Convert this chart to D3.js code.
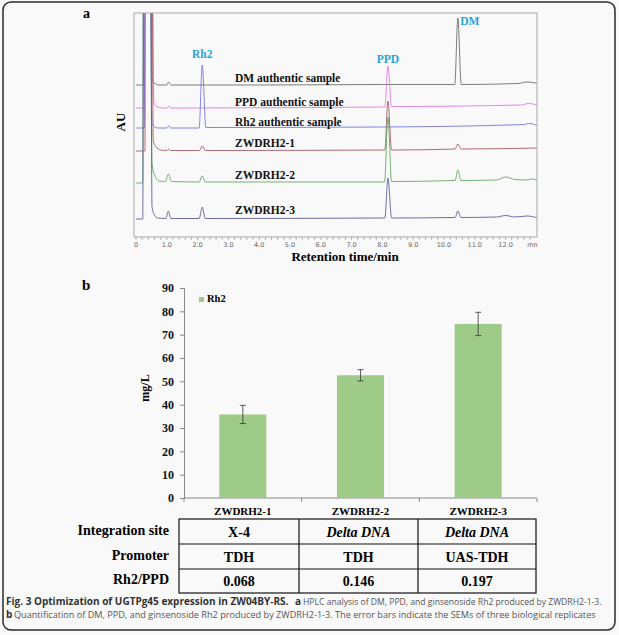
<!DOCTYPE html>
<html>
<head>
<meta charset="utf-8">
<script src="https://cdn.jsdelivr.net/npm/d3@7"></script>
<style>
  body { margin: 0; background: #f9f9f9; }
  svg { display: block; }
  .serif { font-family: "Liberation Serif", "Times New Roman", serif; font-weight: bold; }
  .cap { font-family: "Open Sans", sans-serif; }
</style>
</head>
<body>
<div id="chart"></div>
<script>
// ---- panel a: HPLC traces, [time (min), signal]
var traceNames = ["DM authentic sample", "PPD authentic sample", "Rh2 authentic sample",
                  "ZWDRH2-1", "ZWDRH2-2", "ZWDRH2-3"];
var traceColors = ["#6e6e6e", "#e27be2", "#7676e4", "#a45c62", "#64a864", "#5e5e9c"];
var traceOffsets = [152, 129, 109, 86, 54, 18];

var dmTrace = [[0,0],[0.24,0],[0.27,400],[0.45,400],[0.52,6],[0.6,2],[0.75,0],[1.0,0],[1.06,3],[1.14,0],
  [4,0],[8,0.5],[10.35,0.5],[10.45,67],[10.56,0.5],[12.4,1.5],[12.7,3],[13.05,1.5]];
var ppdTrace = [[0,0],[0.26,0],[0.29,400],[0.5,400],[0.58,5],[0.7,1],[0.85,0],[1.0,0],[1.06,2],[1.12,0],
  [8.08,1],[8.18,42],[8.3,1.5],[12.5,3],[12.75,4.5],[13.05,2.5]];
var rh2Trace = [[0,0],[0.27,0],[0.3,400],[0.42,400],[0.52,4],[0.7,0],[1.0,0],[1.06,2],[1.12,0],
  [2.05,0],[2.15,63],[2.27,0.5],[8,1],[12.6,3.5],[12.75,4.5],[13.05,2]];
var z1Trace = [[0,0],[0.29,0],[0.32,400],[0.5,400],[0.56,10],[0.65,4],[0.8,1],[1.0,0.5],[1.06,2],[1.12,0.5],
  [2.06,0.5],[2.15,5],[2.25,0.5],[8.08,1],[8.18,50],[8.3,1],[10.36,2],[10.45,7],[10.55,2],[13.05,3]];
var z2Trace = [[0,0],[0.22,0],[0.25,400],[0.45,400],[0.52,20],[0.6,8],[0.75,2],[0.96,1.5],[1.05,9],[1.15,1.5],
  [2.05,1],[2.15,7],[2.25,1],[8.07,1],[8.18,66],[8.3,1.5],[10.36,2.5],[10.45,13],[10.55,2.5],
  [11.7,3],[12.0,6],[12.3,3.5],[12.7,3],[12.85,4],[13.05,2.5]];
var z3Trace = [[0,0],[0.22,0],[0.25,400],[0.46,400],[0.52,12],[0.6,4],[0.7,1],[0.97,0.5],[1.05,8],[1.13,0.5],
  [2.05,0.5],[2.15,12],[2.25,0.5],[8.08,1],[8.18,41],[8.3,1],[10.36,1.5],[10.45,8],[10.55,1.5],
  [11.7,2],[12.0,3.5],[12.3,2],[12.7,3],[13.05,1]];
var traces = [dmTrace, ppdTrace, rh2Trace, z1Trace, z2Trace, z3Trace];

var peakNames = ["Rh2", "PPD", "DM"];
var peakTimes = [2.15, 8.18, 10.45];
var peakTrace = [2, 1, 0];

var timeTicks = d3.range(0, 14);
var timeLabels = ["0","1.0","2.0","3.0","4.0","5.0","6.0","7.0","8.0","9.0","10.0","11.0","12.0","mn"];

// ---- panel b: Rh2 titre
var strains = ["ZWDRH2-1", "ZWDRH2-2", "ZWDRH2-3"];
var rh2Values = [35.8, 52.6, 74.6];
var rh2Errors = [3.9, 2.4, 5.0];
var yTicksB = [0, 10, 20, 30, 40, 50, 60, 70, 80, 90];

// ---- table
var rowLabels = ["Integration site", "Promoter", "Rh2/PPD"];
var integrationSites = ["X-4", "Delta DNA", "Delta DNA"];
var promoters = ["TDH", "TDH", "UAS-TDH"];
var ratios = ["0.068", "0.146", "0.197"];

var W = 619, H = 635;
var svg = d3.select("#chart").append("svg").attr("width", W).attr("height", H);

// outer frame
svg.append("rect").attr("x", 3).attr("y", 2).attr("width", 612).attr("height", 628)
    .attr("rx", 8).attr("fill", "none").attr("stroke", "#2a2a2a").attr("stroke-width", 1.5);

// ================= panel a =================
var box = {left: 134, right: 537, top: 13, bottom: 237};
var xA = d3.scaleLinear().domain([-0.065, 13.02]).range([box.left, box.right]);
var yA = d3.scaleLinear().domain([0, 224]).range([box.bottom, box.top]);

svg.append("text").attr("class", "serif").attr("x", 83).attr("y", 18)
    .attr("font-size", 14).text("a");

svg.append("defs").append("clipPath").attr("id", "clipA").append("rect")
    .attr("x", box.left).attr("y", box.top)
    .attr("width", box.right - box.left).attr("height", box.bottom - box.top);

var line = d3.line().curve(d3.curveMonotoneX);

var gTr = svg.append("g").attr("clip-path", "url(#clipA)");
traces.forEach(function(tr, i) {
    line.x(function(d) { return xA(d[0]); })
        .y(function(d) { return yA(traceOffsets[i] + d[1]); });
    gTr.append("path").attr("d", line(tr))
        .attr("fill", "none").attr("stroke", traceColors[i]).attr("stroke-width", 0.9);
});

svg.append("rect").attr("x", box.left).attr("y", box.top)
    .attr("width", box.right - box.left).attr("height", box.bottom - box.top)
    .attr("fill", "none").attr("stroke", "#a8a8a8").attr("stroke-width", 1);

// trace labels
var labelDy = [-3, -2, -2, -4, -4, -5];
traceNames.forEach(function(n, i) {
    svg.append("text").attr("class", "serif").attr("x", 235)
        .attr("y", yA(traceOffsets[i]) + labelDy[i])
        .attr("font-size", 11.5).attr("fill", "#111").text(n);
});

// peak labels
peakNames.forEach(function(n, i) {
    var tr = traces[peakTrace[i]];
    var apex = d3.max(tr.filter(function(d) { return Math.abs(d[0] - peakTimes[i]) < 0.01; }), function(d) { return d[1]; });
    var ay = yA(traceOffsets[peakTrace[i]] + apex);
    var t = svg.append("text").attr("class", "serif").attr("font-size", 11.5)
        .attr("fill", "#2aa3d6").attr("text-anchor", "middle").text(n);
    if (n === "DM") t.attr("x", xA(peakTimes[i]) + 12).attr("y", ay + 7);
    else t.attr("x", xA(peakTimes[i])).attr("y", ay - (n === "Rh2" ? 7 : 3));
});

// x axis (retention time)
var gx = svg.append("g").attr("transform", "translate(0," + box.bottom + ")");
gx.selectAll(".minor").data(d3.range(0, 65).map(function(d) { return d * 0.2; }))
    .enter().append("line")
    .attr("x1", function(d) { return xA(d); }).attr("x2", function(d) { return xA(d); })
    .attr("y1", 0).attr("y2", 3).attr("stroke", "#999").attr("stroke-width", 0.7);
gx.selectAll(".lbl").data(timeTicks).enter().append("text")
    .attr("x", function(d) { return xA(d) - (d === 13 ? 4 : 0); }).attr("y", 10)
    .attr("text-anchor", "middle").attr("font-family", "DejaVu Sans, sans-serif")
    .attr("font-size", 6.5).attr("fill", "#666")
    .text(function(d, i) { return timeLabels[i]; });

svg.append("text").attr("class", "serif").attr("x", 345).attr("y", 261)
    .attr("text-anchor", "middle").attr("font-size", 13).text("Retention time/min");
svg.append("text").attr("class", "serif").attr("transform", "translate(125,122) rotate(-90)")
    .attr("text-anchor", "middle").attr("font-size", 13).text("AU");

// ================= panel b =================
svg.append("text").attr("class", "serif").attr("x", 82).attr("y", 290)
    .attr("font-size", 15).text("b");

var xB = d3.scaleBand().domain(strains).range([184, 537]).paddingInner(0.6).paddingOuter(0.3);
var yB = d3.scaleLinear().domain([0, 90]).range([498, 288]);

var gyB = svg.append("g").attr("transform", "translate(184,0)")
    .call(d3.axisLeft(yB).tickValues(yTicksB).tickSize(4).tickPadding(6));
gyB.select(".domain").attr("stroke", "#888");
gyB.selectAll(".tick line").attr("stroke", "#888");
gyB.selectAll(".tick text").attr("class", "serif").attr("font-size", 12).attr("fill", "#111");

svg.append("line").attr("x1", 184).attr("x2", 537).attr("y1", 498).attr("y2", 498)
    .attr("stroke", "#888");
svg.selectAll(".catTick").data(d3.range(0, 4)).enter().append("line")
    .attr("x1", function(d) { return 184 + d * xB.step(); })
    .attr("x2", function(d) { return 184 + d * xB.step(); })
    .attr("y1", 498).attr("y2", 502).attr("stroke", "#888");

svg.selectAll(".bar").data(rh2Values).enter().append("rect")
    .attr("x", function(d, i) { return xB(strains[i]); })
    .attr("y", function(d) { return yB(d); })
    .attr("width", xB.bandwidth())
    .attr("height", function(d) { return 498 - yB(d); })
    .attr("fill", "#9fcb88");

rh2Values.forEach(function(v, i) {
    var cx = xB(strains[i]) + xB.bandwidth() / 2;
    var g = svg.append("g").attr("stroke", "#333").attr("stroke-width", 0.8);
    g.append("line").attr("x1", cx).attr("x2", cx).attr("y1", yB(v + rh2Errors[i])).attr("y2", yB(v - rh2Errors[i]));
    g.append("line").attr("x1", cx - 3).attr("x2", cx + 3).attr("y1", yB(v + rh2Errors[i])).attr("y2", yB(v + rh2Errors[i]));
    g.append("line").attr("x1", cx - 3).attr("x2", cx + 3).attr("y1", yB(v - rh2Errors[i])).attr("y2", yB(v - rh2Errors[i]));
});

svg.append("text").attr("class", "serif").attr("transform", "translate(149,388) rotate(-90)")
    .attr("text-anchor", "middle").attr("font-size", 12).text("mg/L");

// legend
svg.append("rect").attr("x", 199).attr("y", 297).attr("width", 5).attr("height", 5).attr("fill", "#9fcb88");
svg.append("text").attr("class", "serif").attr("x", 207).attr("y", 302)
    .attr("font-size", 10.5).text("Rh2");

// strain labels
strains.forEach(function(s) {
    svg.append("text").attr("class", "serif").attr("x", xB(s) + xB.bandwidth() / 2).attr("y", 515)
        .attr("text-anchor", "middle").attr("font-size", 11).text(s);
});

// ================= table =================
var colX = [179, 299, 418, 536];
var rowY = [519, 544, 569, 593];
var tbl = svg.append("g").attr("stroke", "#111").attr("stroke-width", 1.2);
tbl.append("rect").attr("x", colX[0]).attr("y", rowY[0])
    .attr("width", colX[3] - colX[0]).attr("height", rowY[3] - rowY[0]).attr("fill", "none");
[1, 2].forEach(function(k) {
    tbl.append("line").attr("x1", colX[k]).attr("x2", colX[k]).attr("y1", rowY[0]).attr("y2", rowY[3]);
    tbl.append("line").attr("x1", colX[0]).attr("x2", colX[3]).attr("y1", rowY[k]).attr("y2", rowY[k]);
});

var rows = [integrationSites, promoters, ratios];
rowLabels.forEach(function(lbl, r) {
    var cy = (rowY[r] + rowY[r + 1]) / 2 + 5;
    svg.append("text").attr("class", "serif").attr("x", 169).attr("y", cy - 2)
        .attr("text-anchor", "end").attr("font-size", 14).text(lbl);
    rows[r].forEach(function(v, c) {
        svg.append("text").attr("class", "serif").attr("x", (colX[c] + colX[c + 1]) / 2).attr("y", cy)
            .attr("text-anchor", "middle").attr("font-size", 14)
            .attr("font-style", v === "Delta DNA" ? "italic" : "normal").text(v);
    });
});

// ================= caption =================
// font size is fitted so each run spans its width in the figure
function capText(x, y, len, bold, str) {
    var t = svg.append("text").attr("class", "cap").attr("x", x).attr("y", y)
        .attr("font-size", 10).attr("font-weight", bold ? "bold" : "normal")
        .attr("fill", bold ? "#333" : "#555").text(str);
    if (len) {
        var fs = Math.min(10, 10 * len / t.node().getComputedTextLength());
        t.attr("font-size", fs);
    }
}
capText(6, 605, 285, true, "Fig. 3 Optimization of UGTPg45 expression in ZW04BY-RS.");
capText(295, 605, 0, true, "a");
capText(303, 605, 299, false, "HPLC analysis of DM, PPD, and ginsenoside Rh2 produced by ZWDRH2-1-3.");
capText(6, 618, 0, true, "b");
capText(14, 618, 583, false, "Quantification of DM, PPD, and ginsenoside Rh2 produced by ZWDRH2-1-3. The error bars indicate the SEMs of three biological replicates");
</script>
</body>
</html>
